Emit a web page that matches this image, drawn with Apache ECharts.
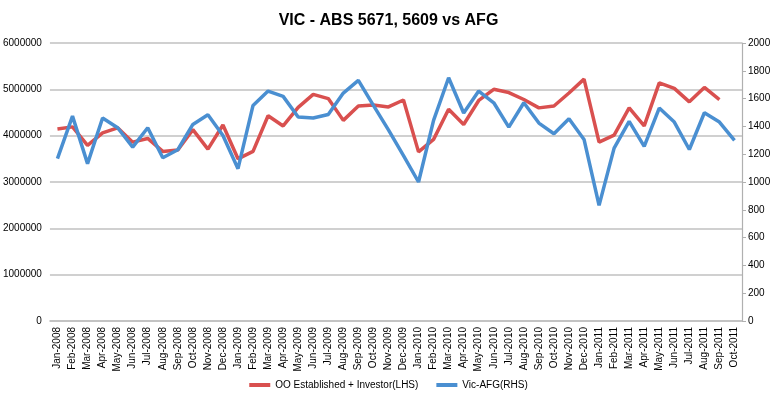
<!DOCTYPE html>
<html>
<head>
<meta charset="utf-8">
<script src="https://cdn.jsdelivr.net/npm/echarts@6/dist/echarts.min.js"></script>
<style>
  html, body { margin: 0; padding: 0; background: #fff; }
  #chart { width: 777px; height: 399px; }
</style>
</head>
<body>
<div id="chart"></div>
<script>
// months Jan-2008 .. Oct-2011
var months = [
  'Jan-2008','Feb-2008','Mar-2008','Apr-2008','May-2008','Jun-2008','Jul-2008','Aug-2008','Sep-2008','Oct-2008','Nov-2008','Dec-2008',
  'Jan-2009','Feb-2009','Mar-2009','Apr-2009','May-2009','Jun-2009','Jul-2009','Aug-2009','Sep-2009','Oct-2009','Nov-2009','Dec-2009',
  'Jan-2010','Feb-2010','Mar-2010','Apr-2010','May-2010','Jun-2010','Jul-2010','Aug-2010','Sep-2010','Oct-2010','Nov-2010','Dec-2010',
  'Jan-2011','Feb-2011','Mar-2011','Apr-2011','May-2011','Jun-2011','Jul-2011','Aug-2011','Sep-2011','Oct-2011'
];

// OO Established + Investor (LHS)
var ooValues = [
  4145000, 4190000, 3790000, 4060000, 4170000, 3860000, 3940000, 3660000, 3690000, 4130000, 3710000, 4230000,
  3500000, 3660000, 4430000, 4210000, 4610000, 4890000, 4800000, 4330000, 4640000, 4660000, 4620000, 4770000,
  3650000, 3920000, 4570000, 4240000, 4760000, 5000000, 4930000, 4780000, 4600000, 4640000, 4920000, 5220000,
  3860000, 4010000, 4600000, 4210000, 5140000, 5020000, 4730000, 5040000, 4780000, null
];

// Vic-AFG (RHS)
var afgValues = [
  1168, 1474, 1132, 1460, 1390, 1251, 1390, 1175, 1232, 1414, 1484, 1335,
  1096, 1551, 1654, 1616, 1467, 1460, 1486, 1640, 1731, 1551, 1375, 1190,
  1000, 1443, 1750, 1496, 1654, 1570, 1395, 1570, 1424, 1347, 1455, 1306,
  832, 1244, 1436, 1256, 1532, 1431, 1234, 1498, 1431, 1299
];

var leftTicks = { min: 0, max: 6000000, interval: 1000000 };
var rightTicks = { min: 0, max: 2000, interval: 200 };

var chart = echarts.init(document.getElementById('chart'));

// plain numbers, no thousands separators
function plain(v) { return String(v); }

var option = {
  animation: false,
  textStyle: { fontFamily: 'Liberation Sans' },
  title: {
    text: 'VIC - ABS 5671, 5609 vs AFG',
    left: 'center',
    top: 8,
    textStyle: { fontSize: 16, fontWeight: 'bold', color: '#000', fontFamily: 'Liberation Sans' }
  },
  legend: {
    bottom: 4,
    left: 'center',
    itemWidth: 21,
    itemHeight: 4,
    itemGap: 18,
    icon: 'rect',
    textStyle: { fontSize: 10, color: '#000' },
    data: ['OO Established + Investor(LHS)', 'Vic-AFG(RHS)']
  },
  grid: { left: 49, right: 35, top: 43, bottom: 78 },
  xAxis: {
    type: 'category',
    data: months,
    boundaryGap: true,
    axisLine: { lineStyle: { color: '#bfbfbf', width: 1.5 } },
    axisTick: { show: false },
    axisLabel: { rotate: 90, interval: 0, fontSize: 10, color: '#000', margin: 6 }
  },
  yAxis: [
    {
      type: 'value',
      min: leftTicks.min, max: leftTicks.max, interval: leftTicks.interval,
      axisLine: { show: false },
      axisTick: { show: false },
      axisLabel: { fontSize: 10, color: '#000', margin: 8, formatter: plain },
      splitLine: { lineStyle: { color: '#c0c0c0', width: 1.5 } }
    },
    {
      type: 'value',
      position: 'right',
      min: rightTicks.min, max: rightTicks.max, interval: rightTicks.interval,
      axisLine: { show: true, lineStyle: { color: '#b0b0b0', width: 1.2 } },
      axisTick: { show: true, length: 4, lineStyle: { color: '#b0b0b0' } },
      axisLabel: { fontSize: 10, color: '#000', margin: 6, formatter: plain },
      splitLine: { show: false }
    }
  ],
  series: [
    {
      name: 'OO Established + Investor(LHS)',
      type: 'line',
      yAxisIndex: 0,
      data: ooValues,
      symbol: 'none',
      lineStyle: { width: 3.5, color: '#d9504f' },
      itemStyle: { color: '#d9504f' }
    },
    {
      name: 'Vic-AFG(RHS)',
      type: 'line',
      yAxisIndex: 1,
      data: afgValues,
      symbol: 'none',
      lineStyle: { width: 3.5, color: '#4a8fd1' },
      itemStyle: { color: '#4a8fd1' }
    }
  ]
};

chart.setOption(option);
</script>
</body>
</html>
